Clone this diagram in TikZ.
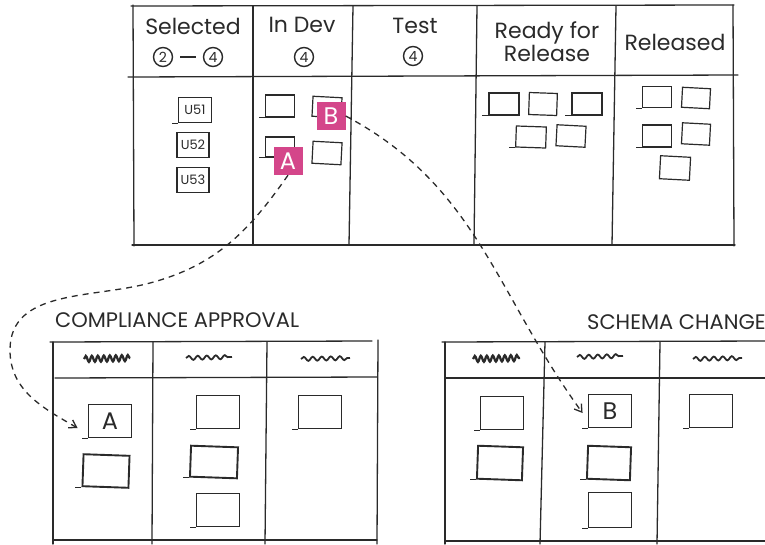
\documentclass[tikz,border=0pt]{standalone}
\usepackage{fontspec}
\setmainfont{Poppins}
\usetikzlibrary{arrows.meta,decorations.pathmorphing}
\definecolor{ink}{HTML}{2A2A2A}
\definecolor{tagpink}{RGB}{212,70,138}
\tikzset{
  boardline/.style={draw=ink,line width=1.3pt,line cap=round},
  hdr/.style={font=\fontsize{22}{23}\selectfont,text=ink,inner sep=1pt,align=center},
  wip/.style={circle,draw=ink,line width=1.4pt,minimum size=19pt,inner sep=0pt,font=\fontsize{14}{14}\selectfont,text=ink},
  card/.style={draw=ink,line width=1.2pt,minimum width=29pt,minimum height=21pt,inner sep=0pt,font=\fontsize{13}{13}\selectfont,text=ink},
  bigcard/.style={draw=ink,line width=1.9pt,minimum width=43pt,minimum height=33pt,inner sep=0pt,font=\fontsize{24}{24}\selectfont,text=ink},
  tag/.style={fill=tagpink,minimum width=29pt,minimum height=28pt,inner sep=0pt,text=white,font=\fontsize{24}{24}\selectfont},
  title/.style={anchor=west,font=\fontsize{21}{21}\selectfont,text=ink,inner sep=0pt},
  tick/.style={draw=ink,line width=1pt},
  squiggle/.style={draw=ink,line width=1.8pt,decorate,decoration={snake,amplitude=2pt,segment length=9pt}},
  dense/.style={draw=ink,line width=2.3pt,decorate,decoration={snake,amplitude=3pt,segment length=6pt}},
  flow/.style={draw=ink,line width=1.3pt,dash pattern=on 6pt off 5pt,-{Straight Barb[length=7pt,width=9pt,line width=1.3pt]}}
}
\begin{document}
\begin{tikzpicture}[x=1pt,y=-1pt]
\useasboundingbox (0,0) rectangle (765,544);

% ---- main kanban board ----
\draw[boardline] (131,6) -- (734,5);
\draw[boardline] (133,5) -- (134,246);
\draw[boardline] (132,245) -- (735,245);
\draw[boardline] (733,5) -- (734,246);
\draw[boardline] (128,77) -- (738,75);
\draw[boardline] (253,6) -- (253,245);
\draw[boardline] (353,6) -- (349,245);
\draw[boardline] (477,6) -- (474,245);
\draw[boardline] (616,6) -- (612,245);

% column headers
\node[hdr] (selT) at (193,26) {Selected};
\node[wip] (s2) at (163,57) {2};
\node[wip] (s4) at (213,57) {4};
\draw[ink,line width=1.6pt,shorten <=7pt,shorten >=7pt] (s2.east) -- (s4.west);
\node[hdr] (devT) at (302,25) {In Dev};
\node[wip] (dv4) at (304,57) {4};
\node[hdr] (testT) at (415,26) {Test};
\node[wip] (ts4) at (413,56) {4};
\node[hdr] (rdyT) at (547,42) {Ready for\\Release};
\node[hdr] (relT) at (675,42) {Released};

% cards: selected
\node[card,minimum width=33pt,minimum height=25pt] (u1) at (195,110) {U51};
\node[card,minimum width=32pt,minimum height=25pt] (u2) at (193,145) {U52};
\node[card,minimum width=32pt,minimum height=25pt] (u3) at (193,180) {U53};
% cards: in dev
\node[card,minimum height=22pt] (d1) at (280,106) {};
\node[card,minimum height=20pt,rotate=-3] (d2) at (327,107) {};
\node[card,minimum height=20pt] (d3) at (280,147) {};
\node[card,minimum height=22pt,rotate=-3] (d4) at (327,153) {};
\node[tag] (B) at (331,116) {B};
\node[tag] (A) at (288,161) {A};
% cards: ready for release
\node[card,minimum width=30pt,minimum height=22pt] (r1) at (504,104) {};
\node[card,minimum width=28pt,minimum height=22pt,rotate=-2] (r2) at (543,104) {};
\node[card,minimum width=30pt,minimum height=22pt] (r3) at (587,104) {};
\node[card,minimum width=30pt,minimum height=21pt,rotate=-2] (r4) at (531,137) {};
\node[card,minimum width=29pt,minimum height=21pt,rotate=-3] (r5) at (571,136) {};
% cards: released
\node[card,minimum height=21pt] (l1) at (657,97) {};
\node[card,minimum width=28pt,minimum height=20pt,rotate=-3] (l2) at (696,98) {};
\node[card,minimum height=22pt] (l3) at (657,136) {};
\node[card,minimum width=28pt,minimum height=21pt,rotate=-3] (l4) at (696,134) {};
\node[card,minimum width=30pt,minimum height=23pt,rotate=-3] (l5) at (675,168) {};

\foreach \n in {u1,d1,d3,r1,r3,r4,l1,l3}
  \draw[tick] (\n.south west) -- ++(-6pt,0);

% ---- compliance approval board ----
\node[title] (capT) at (55,320) {COMPLIANCE APPROVAL};
\draw[boardline] (50,342) -- (372,341);
\draw[boardline] (53,342) -- (53,544);
\draw[boardline] (153,342) -- (152,544);
\draw[boardline] (267,342) -- (265,544);
\draw[boardline] (378,340) -- (377,544);
\draw[boardline] (55,378) -- (377,377);
\draw[boardline] (53,540) -- (377,540);
\draw[dense] (84,359) -- (130,358);
\draw[squiggle] (186,358) -- (232,357);
\draw[squiggle] (301,359) -- (350,358);

\node[bigcard] (cA) at (110,421) {A};
\node[bigcard,minimum width=46pt,minimum height=32pt,rotate=-2] (cp2) at (106,471) {};
\node[bigcard] (cp3) at (218,412) {};
\node[bigcard,minimum width=47pt,minimum height=31pt,rotate=-2] (cp4) at (214,462) {};
\node[bigcard] (cp5) at (218,510) {};
\node[bigcard] (cp6) at (320,412) {};
\foreach \n in {cA,cp2,cp3,cp4,cp5,cp6}
  \draw[tick] (\n.south west) -- ++(-6pt,0);

% ---- schema change board ----
\node[title] (schT) at (587,322) {SCHEMA CHANGE};
\draw[boardline] (442,342) -- (767,341);
\draw[boardline] (445,342) -- (445,544);
\draw[boardline] (545,342) -- (540,544);
\draw[boardline] (660,342) -- (657,544);
\draw[boardline] (445,378) -- (767,378);
\draw[boardline] (445,541) -- (767,541);
\draw[dense] (473,359) -- (520,358);
\draw[squiggle] (577,357) -- (623,356);
\draw[squiggle] (693,359) -- (742,358);

\node[bigcard] (cs1) at (502,413) {};
\node[bigcard,minimum width=45pt,minimum height=33pt,rotate=-2] (cs2) at (500,463) {};
\node[bigcard] (cB) at (610,411) {B};
\node[bigcard,rotate=-2] (cs4) at (609,463) {};
\node[bigcard,minimum height=35pt] (cs5) at (610,510) {};
\node[bigcard] (cs6) at (711,411) {};
\foreach \n in {cs1,cs2,cB,cs4,cs5,cs6}
  \draw[tick] (\n.south west) -- ++(-6pt,0);

% ---- hand-off connectors ----
\coordinate (aw) at (150,283);
\coordinate (al) at (10,350);
\draw[flow] (A.south) to[out=235,in=15] (aw) to[out=195,in=90] (al)
  to[out=-90,in=150] ([shift={(-10pt,-7pt)}]cA.west);
\draw[flow] (B.east) to[out=-28,in=126] ([xshift=-5pt,yshift=-2pt]cB.west);
\end{tikzpicture}
\end{document}
